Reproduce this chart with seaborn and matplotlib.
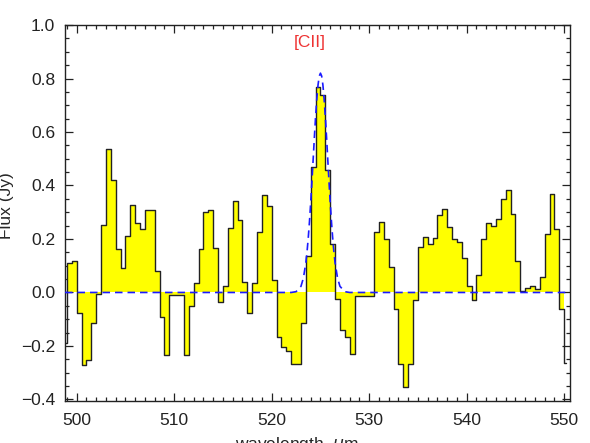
import numpy as np
import pandas as pd
import matplotlib
matplotlib.use('Agg')
import matplotlib.pyplot as plt
import seaborn as sns
from matplotlib.ticker import MultipleLocator

# binned spectrum, 0.5 um bins starting at 499.0 um
wl_start = 499.0
bin_width = 0.5
flux = [
    0.110, 0.116, -0.075, -0.273, -0.252, -0.115, -0.005, 0.251, 0.535, 0.420,
    0.161, 0.092, 0.212, 0.328, 0.260, 0.237, 0.307, 0.307, 0.079, -0.090,
    -0.232, -0.011, -0.011, -0.011, -0.232, -0.052, 0.036, 0.164, 0.302, 0.307,
    0.167, -0.037, 0.025, 0.241, 0.342, 0.271, 0.039, -0.076, 0.034, 0.226,
    0.366, 0.323, 0.047, -0.167, -0.205, -0.217, -0.267, -0.267, -0.114, 0.136,
    0.469, 0.769, 0.738, 0.457, 0.182, -0.024, -0.140, -0.167, -0.230, -0.012,
    -0.012, -0.012, -0.015, 0.226, 0.263, 0.201, 0.095, -0.061, -0.267, -0.352,
    -0.267, -0.030, 0.170, 0.207, 0.180, 0.205, 0.288, 0.313, 0.245, 0.201,
    0.188, 0.130, 0.024, -0.027, 0.066, 0.201, 0.260, 0.247, 0.275, 0.350,
    0.385, 0.295, 0.117, 0.005, 0.018, 0.024, 0.012, 0.056, 0.220, 0.367,
    0.239, -0.061,
]
# partial bins clipped at the plot edges (outline only)
lead_wl, lead_flux = 498.75, -0.19
tail_wl, tail_flux = 550.2, -0.265

# dashed line profile
fit_wl = [498.8, 522.0, 522.5, 523.0, 523.25, 523.5, 523.625, 523.75, 523.875, 524.0,
          524.125, 524.25, 524.375, 524.5, 524.625, 524.75, 524.875, 525.0,
          525.125, 525.25, 525.375, 525.5, 525.625, 525.75, 525.875, 526.0,
          526.125, 526.25, 526.375, 526.5, 526.75, 527.0, 527.5, 528.0, 550.6]
fit_flux = [0.0, 0.0, 0.003, 0.023, 0.054, 0.111, 0.153, 0.205, 0.266, 0.337,
            0.415, 0.497, 0.580, 0.657, 0.724, 0.776, 0.809, 0.820,
            0.809, 0.776, 0.724, 0.657, 0.580, 0.497, 0.415, 0.337,
            0.266, 0.205, 0.153, 0.111, 0.054, 0.023, 0.003, 0.0, 0.0]

edges = wl_start + bin_width * np.arange(len(flux) + 1)
vals = np.r_[flux, flux[-1]]

step_df = pd.DataFrame({
    'wl': np.r_[lead_wl, edges[:-1], edges[-1], tail_wl],
    'flux': np.r_[lead_flux, flux, tail_flux, tail_flux],
})
fit_df = pd.DataFrame({'wl': fit_wl, 'flux': fit_flux})

sns.set_style('ticks')
plt.rcParams.update({
    'font.family': ['Liberation Sans', 'DejaVu Sans'],
    'xtick.direction': 'in',
    'ytick.direction': 'in',
    'xtick.top': True,
    'ytick.right': True,
    'axes.linewidth': 1.0,
    'axes.edgecolor': '#222222',
    'xtick.color': '#222222',
    'ytick.color': '#222222',
    'text.color': '#222222',
})

fig = plt.figure(figsize=(5.9, 4.43), dpi=100)
ax = fig.add_axes([0.1102, 0.0959, 0.856, 0.8476])

ax.fill_between(edges, vals, 0, step='post', color='#ffff00', lw=0, zorder=1)
sns.lineplot(data=step_df, x='wl', y='flux', drawstyle='steps-post', sort=False,
             estimator=None, color='#222222', lw=1.0, ax=ax, zorder=2)
sns.lineplot(data=fit_df, x='wl', y='flux', sort=False, estimator=None,
             color='#1a1aff', lw=1.2, linestyle=(0, (4.5, 3)), ax=ax, zorder=3)

ax.text(523.9, 0.935, '[CII]', color='#ee3333', fontsize=12.5,
        ha='center', va='center')

ax.set_xlim(498.8, 550.6)
ax.set_ylim(-0.404, 1.0)
ax.xaxis.set_major_locator(MultipleLocator(10))
ax.xaxis.set_minor_locator(MultipleLocator(1))
ax.yaxis.set_major_locator(MultipleLocator(0.2))
ax.yaxis.set_minor_locator(MultipleLocator(0.05))
ax.yaxis.set_major_formatter(plt.FuncFormatter(lambda v, p: f'{v:.1f}'.replace('-', '\u2212')))
ax.tick_params(which='major', length=5.5, width=0.9, labelsize=12.5)
ax.tick_params(which='minor', length=3, width=0.9)
ax.tick_params(axis='x', which='major', pad=9)
ax.tick_params(axis='y', which='major', pad=7)

ax.set_xlabel('wavelength  $\\mu$m', fontsize=12.5, va='top')
ax.set_ylabel('Flux (Jy)', fontsize=12.5)
ax.xaxis.set_label_coords(0.46, -0.091)
ax.yaxis.set_label_coords(-0.101, 0.52)

fig.savefig('out.png', dpi=100)
